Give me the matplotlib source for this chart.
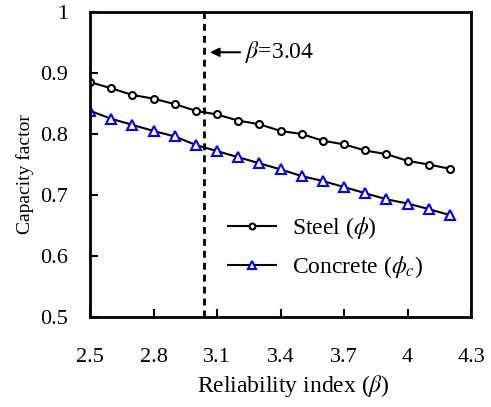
import matplotlib
matplotlib.use("Agg")
import matplotlib.pyplot as plt

beta = [2.5, 2.6, 2.7, 2.8, 2.9, 3.0, 3.1, 3.2, 3.3, 3.4,
        3.5, 3.6, 3.7, 3.8, 3.9, 4.0, 4.1, 4.2]
steel_phi = [0.885, 0.875, 0.864, 0.858, 0.849, 0.838, 0.832, 0.822, 0.816,
             0.805, 0.800, 0.789, 0.783, 0.773, 0.767, 0.756, 0.750, 0.743]
concrete_phi = [0.838, 0.825, 0.815, 0.805, 0.796, 0.782, 0.772, 0.762, 0.752,
                0.742, 0.731, 0.723, 0.713, 0.703, 0.693, 0.686, 0.677, 0.667]
beta_target = 3.04
x_ticks = [2.5, 2.8, 3.1, 3.4, 3.7, 4.0, 4.3]
x_tick_labels = ["2.5", "2.8", "3.1", "3.4", "3.7", "4", "4.3"]
y_ticks = [0.5, 0.6, 0.7, 0.8, 0.9, 1.0]
y_tick_labels = ["0.5", "0.6", "0.7", "0.8", "0.9", "1"]

plt.rcParams["font.family"] = ["Liberation Serif", "DejaVu Serif"]
plt.rcParams["mathtext.fontset"] = "stix"

fig = plt.figure(figsize=(4.91, 4.07), dpi=100)
ax = fig.add_axes([90 / 491, 1 - 317 / 407, 381 / 491, 305 / 407])

ax.plot(beta, steel_phi, color="black", lw=1.5, marker="o", ms=5,
        mfc="white", mec="black", mew=1.5, label=r"Steel ($\phi$)")
ax.plot(beta, concrete_phi, color="black", lw=1.5, marker="^", ms=6.5,
        mfc="white", mec="blue", mew=1.5, label=r"Concrete ($\phi_c$)")
ax.axvline(beta_target, color="black", lw=2, ls=(0, (2.5, 1.8)))

ax.annotate("", xy=(3.067, 0.934), xytext=(3.209, 0.934),
            arrowprops=dict(arrowstyle="-|>", color="black", lw=1.5,
                            mutation_scale=13, shrinkA=0, shrinkB=0))
ax.text(3.232, 0.934, r"$\beta$=3.04", fontsize=17, va="center", ha="left")

ax.set_xlim(2.5, 4.3)
ax.set_ylim(0.5, 1.0)
ax.set_xticks(x_ticks)
ax.set_xticklabels(x_tick_labels)
ax.set_yticks(y_ticks)
ax.set_yticklabels(y_tick_labels)
ax.tick_params(direction="in", length=6, width=1.5, labelsize=16,
               top=False, right=False)
ax.tick_params(axis="x", pad=22.5)
ax.tick_params(axis="y", pad=16)
for s in ax.spines.values():
    s.set_linewidth(2)

ax.set_xlabel(r"Reliability index ($\beta$)", fontsize=17)
ax.xaxis.set_label_coords(0.533, -0.184)
ax.set_ylabel("Capacity factor", fontsize=14)
ax.yaxis.set_label_coords(-0.148, 0.469)

ax.legend(loc="upper left", bbox_to_anchor=(0.362, 0.335), frameon=False,
          fontsize=17, handlelength=2.03, handletextpad=0.68,
          labelspacing=0.55, borderpad=0, borderaxespad=0, markerscale=0.85)

fig.savefig("out.png", dpi=100)
